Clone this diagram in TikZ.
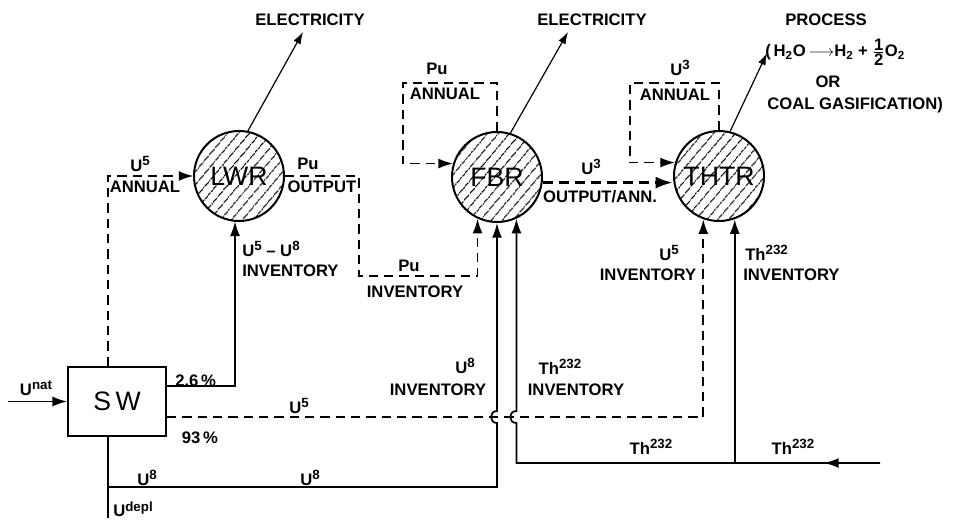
\documentclass[tikz,border=0pt]{standalone}
\usepackage{fontspec}
\setmainfont{Liberation Sans}
\usetikzlibrary{arrows.meta,patterns.meta}
\newcommand\spx[1]{\raisebox{0.62ex}{\fontsize{10}{10}\selectfont #1}}
\begin{document}
\begin{tikzpicture}[x=0.75pt,y=-0.75pt,
  lbl/.style={font=\fontsize{12.5}{14}\selectfont\bfseries,inner sep=0pt},
  reactor/.style={circle,draw,line width=1.5pt,minimum size=67.5pt,inner sep=0pt,
     pattern={Lines[angle=50,distance=6.5pt,line width=0.8pt]},font=\fontsize{20}{21}\selectfont},
  flow/.style={line width=1.3pt},
  dflow/.style={line width=1.3pt,dash pattern=on 7pt off 4.5pt},
  tdflow/.style={line width=2.3pt,dash pattern=on 8pt off 4pt},
  thinline/.style={line width=0.9pt},
  arr/.style={-{Latex[length=11pt,width=7.5pt]}},
  sarr/.style={-{Latex[length=9pt,width=6pt]}},
  bigarr/.style={-{Latex[length=13pt,width=9pt]}}
]
\useasboundingbox (0,0) rectangle (966,520);

% reactors and separation works
\node[reactor] (LWR) at (239,176) {LWR};
\node[reactor] (FBR) at (497,177) {FBR};
\node[reactor] (THTR) at (719,176) {THTR};
\node[draw,line width=1.3pt,minimum width=73.5pt,minimum height=51.75pt,inner sep=0pt,
      font=\fontsize{20}{21}\selectfont] (SW) at (117,401.5) {S\,W};

% free ends
\coordinate (e1) at (303,32);
\coordinate (e2) at (568,32);
\coordinate (e3) at (767,53);
\coordinate (unat) at (8,401.5);
\coordinate (udepl) at (108,518);
\coordinate (j1) at (108,487);
\coordinate (thin) at (880,463);

% electricity / process outputs
\draw[thinline,sarr] (LWR.79) -- (e1);
\draw[thinline,sarr] (FBR.73) -- (e2);
\draw[thinline,sarr] (THTR.76) -- (e3);

% U5 annual to LWR
\draw[dflow,arr] (SW.north -| 108,0) |- (LWR.west);
% Pu output LWR -> FBR
\draw[dflow,arr] (LWR.east) -| (359,276) -| (FBR.-115);
% U5-U8 inventory
\draw[flow,arr] (SW.east |- 0,386) -| (LWR.-95);
% U nat
\draw[flow,arr] (unat) -- (SW.west);
% U5 93% to THTR
\draw[dflow,arr] (SW.east |- 0,417) -| (THTR.-110);
% U depl
\draw[flow] (SW.south -| 108,0) -- (udepl);
% U8 to FBR (with jump)
\draw[flow,arr] (j1) -- (FBR.south |- j1) -- (FBR.south |- 0,423)
   .. controls (489,423) and (489,411) .. (FBR.south |- 0,411) -- (FBR.south);
% Th232 to FBR (with jump)
\draw[flow,arr] (thin) -- (FBR.-65 |- thin) -- (FBR.-65 |- 0,423)
   .. controls (508,423) and (508,411) .. (FBR.-65 |- 0,411) -- (FBR.-65);
\draw[flow,arr] (thin) -- (824,463);
% Th232 to THTR
\draw[flow,arr] (THTR.-70 |- thin) -- (THTR.-70);

% annual loops
\draw[dflow,arr] (FBR.north) |- (403,83) |- (FBR.163);
\draw[dflow,arr] (THTR.north) |- (630,83) |- (THTR.163);
% U3 output FBR -> THTR
\draw[tdflow,bigarr] (FBR.-7) -- (THTR.west |- FBR.-7);

% labels
\node[lbl] (tE1) at (310,20) {ELECTRICITY};
\node[lbl] (tE2) at (592,20) {ELECTRICITY};
\node[lbl] (tP) at (826,20) {PROCESS};
\node[lbl,anchor=west] (tH) at (765,52) {(\,H\textsubscript{2}O\,$\longrightarrow$H\textsubscript{2} + $\frac{\textbf{1}}{\textbf{2}}$O\textsubscript{2}};
\node[lbl] (tOR) at (828,82) {OR};
\node[lbl,anchor=west] (tC) at (767,105) {COAL GASIFICATION)};

\node[lbl] (l1) at (140,164) {U\spx{5}};
\node[lbl] (l2) at (145,187) {ANNUAL};
\node[lbl] (l3) at (308,164) {Pu};
\node[lbl] (l4) at (322,187) {OUTPUT};
\node[lbl,anchor=west] (l5) at (242,249) {U\spx{5} -- U\spx{8}};
\node[lbl,anchor=west] (l6) at (242,271) {INVENTORY};
\node[lbl] (l7) at (409,266) {Pu};
\node[lbl] (l8) at (415,292) {INVENTORY};
\node[lbl,anchor=west] (l9) at (175,381) {2.6\,\%};
\node[lbl] (l10) at (36,388) {U\spx{nat}};
\node[lbl] (l11) at (299,406) {U\spx{5}};
\node[lbl] (l12) at (200,438) {93\,\%};
\node[lbl] (l13) at (147,478) {U\spx{8}};
\node[lbl] (l14) at (310,478) {U\spx{8}};
\node[lbl,anchor=west] (l15) at (113,509) {U\spx{depl}};
\node[lbl] (l16) at (465,366) {U\spx{8}};
\node[lbl] (l17) at (438,390) {INVENTORY};
\node[lbl] (l18) at (560,367) {Th\spx{232}};
\node[lbl] (l19) at (576,390) {INVENTORY};
\node[lbl] (l20) at (651,447) {Th\spx{232}};
\node[lbl] (l21) at (793,447) {Th\spx{232}};
\node[lbl] (l22) at (669,253) {U\spx{5}};
\node[lbl] (l23) at (648,275) {INVENTORY};
\node[lbl,anchor=west] (l24) at (745,253) {Th\spx{232}};
\node[lbl,anchor=west] (l25) at (743,275) {INVENTORY};
\node[lbl] (l26) at (437,69) {Pu};
\node[lbl] (l27) at (445,94) {ANNUAL};
\node[lbl] (l28) at (680,68) {U\spx{3}};
\node[lbl] (l29) at (675,95) {ANNUAL};
\node[lbl] (l30) at (591,167) {U\spx{3}};
\node[lbl] (l31) at (600,197) {OUTPUT/ANN.};
\end{tikzpicture}
\end{document}
